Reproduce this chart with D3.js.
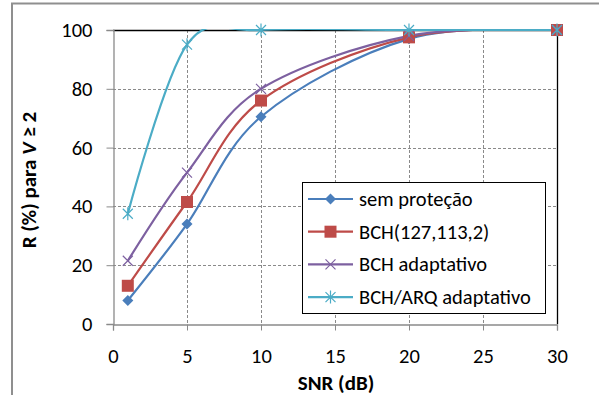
<!DOCTYPE html>
<html>
<head>
<meta charset="utf-8">
<script src="https://cdn.jsdelivr.net/npm/d3@7"></script>
<style>
  html, body { margin: 0; padding: 0; background: #fff; }
  svg { display: block; font-family: Carlito, Lato, "Open Sans", sans-serif; }
</style>
</head>
<body>
<svg id="chart" width="599" height="395"></svg>
<script>
// SNR points (dB) and R (%) for V >= 2, one array per scheme
const snr = [1, 5, 10, 20, 30];
const semProtecao = [8, 34, 70.5, 97, 100];
const bch127 = [13, 41.5, 76, 97.5, 100];
const bchAdaptativo = [21.5, 51.5, 80, 98, 100];
const bchArqAdaptativo = [37.5, 95, 100, 100, 100];

const seriesNames = ["sem proteção", "BCH(127,113,2)", "BCH adaptativo", "BCH/ARQ adaptativo"];
const seriesValues = [semProtecao, bch127, bchAdaptativo, bchArqAdaptativo];
const seriesColors = ["#4a7ebb", "#be4b48", "#7d60a0", "#4bacc6"];
const seriesMarkers = ["diamond", "square", "cross", "star"];

const xTicks = [0, 5, 10, 15, 20, 25, 30];
const yTicks = [0, 20, 40, 60, 80, 100];

const svg = d3.select("#chart");
const plotLeft = 113, plotRight = 557, plotTop = 30, plotBottom = 324;
const fontSize = 20.5;

const x = d3.scaleLinear().domain([0, 30]).range([plotLeft, plotRight]);
const y = d3.scaleLinear().domain([0, 100]).range([plotBottom, plotTop]);

// outer chart frame (left and top edges)
svg.append("path")
  .attr("d", "M12,395 V3.5 H599")
  .attr("fill", "none").attr("stroke", "#8f8f8f").attr("stroke-width", 2);

// dashed grid
const grid = svg.append("g").attr("stroke", "#8a8a8a").attr("stroke-dasharray", "3,2").attr("stroke-width", 1);
xTicks.filter(t => t > 0 && t < 30).forEach(t => {
  grid.append("line").attr("x1", Math.round(x(t)) + 0.5).attr("x2", Math.round(x(t)) + 0.5)
    .attr("y1", plotTop).attr("y2", plotBottom);
});
yTicks.filter(t => t > 0 && t < 100).forEach(t => {
  grid.append("line").attr("y1", Math.round(y(t)) + 0.5).attr("y2", Math.round(y(t)) + 0.5)
    .attr("x1", plotLeft).attr("x2", plotRight);
});

// plot border: black top and right
svg.append("path")
  .attr("d", `M${plotLeft},${plotTop + 0.5} H${plotRight + 0.5} V${plotBottom}`)
  .attr("fill", "none").attr("stroke", "#000").attr("stroke-width", 1.3);

// axes
const xAxis = svg.append("g").attr("transform", `translate(0,${plotBottom + 0.5})`)
  .call(d3.axisBottom(x).tickValues(xTicks).tickSize(6).tickPadding(18));
const yAxis = svg.append("g").attr("transform", `translate(${plotLeft + 0.5},0)`)
  .call(d3.axisLeft(y).tickValues(yTicks).tickSize(7).tickPadding(14));
[xAxis, yAxis].forEach(a => {
  a.select(".domain").attr("stroke", "#8a8a8a").attr("stroke-width", 1.3);
  a.selectAll(".tick line").attr("stroke", "#8a8a8a");
  a.selectAll(".tick text").attr("font-size", fontSize).attr("fill", "#000")
    .attr("font-family", "Carlito, Lato, 'Open Sans', sans-serif");
});

// clipping to the plot area
svg.append("defs").append("clipPath").attr("id", "plotClip")
  .append("rect").attr("x", plotLeft).attr("y", plotTop - 1)
  .attr("width", plotRight - plotLeft + 2).attr("height", plotBottom - plotTop + 2);

const line = d3.line().x(d => x(d[0])).y(d => y(d[1])).curve(d3.curveCardinal.tension(0));

function drawMarker(g, type, cx, cy, color) {
  if (type === "diamond") {
    g.append("path").attr("d", `M${cx},${cy - 5.5} L${cx + 5.5},${cy} L${cx},${cy + 5.5} L${cx - 5.5},${cy} Z`)
      .attr("fill", color);
  } else if (type === "square") {
    g.append("rect").attr("x", cx - 6).attr("y", cy - 6).attr("width", 12).attr("height", 12)
      .attr("fill", color);
  } else if (type === "cross") {
    g.append("path").attr("d", `M${cx - 5},${cy - 5} L${cx + 5},${cy + 5} M${cx - 5},${cy + 5} L${cx + 5},${cy - 5}`)
      .attr("stroke", color).attr("stroke-width", 1.2).attr("fill", "none");
  } else {
    g.append("path").attr("d", `M${cx - 5},${cy - 5} L${cx + 5},${cy + 5} M${cx - 5},${cy + 5} L${cx + 5},${cy - 5} M${cx},${cy - 6.5} V${cy + 6.5}`)
      .attr("stroke", color).attr("stroke-width", 1.2).attr("fill", "none");
  }
}

const plot = svg.append("g");
seriesValues.forEach((vals, i) => {
  const pts = snr.map((s, j) => [s, vals[j]]);
  plot.append("path").datum(pts)
    .attr("clip-path", "url(#plotClip)")
    .attr("d", line).attr("fill", "none")
    .attr("stroke", seriesColors[i]).attr("stroke-width", 2.2);
});
seriesValues.forEach((vals, i) => {
  const g = plot.append("g");
  snr.forEach((s, j) => drawMarker(g, seriesMarkers[i], x(s), y(vals[j]), seriesColors[i]));
});

// axis titles
svg.append("text").attr("x", 336).attr("y", 390).attr("text-anchor", "middle")
  .attr("font-size", 21).attr("font-weight", "bold").text("SNR (dB)");
const yt = svg.append("text").attr("transform", `translate(36,180) rotate(-90)`)
  .attr("text-anchor", "middle").attr("font-size", 21).attr("font-weight", "bold");
yt.append("tspan").text("R (%) para ");
yt.append("tspan").attr("font-style", "italic").text("V");
yt.append("tspan").text(" ≥ 2");

// legend
const lg = svg.append("g");
lg.append("rect").attr("x", 302.5).attr("y", 182.5).attr("width", 243).attr("height", 131)
  .attr("fill", "#fff").attr("stroke", "#000").attr("stroke-width", 1);
seriesNames.forEach((name, i) => {
  const cy = 199 + i * 32.7;
  lg.append("line").attr("x1", 308).attr("x2", 353).attr("y1", cy).attr("y2", cy)
    .attr("stroke", seriesColors[i]).attr("stroke-width", 2.2);
  drawMarker(lg, seriesMarkers[i], 330.5, cy, seriesColors[i]);
  lg.append("text").attr("x", 359).attr("y", cy + 7).attr("font-size", fontSize).text(name);
});
</script>
</body>
</html>
